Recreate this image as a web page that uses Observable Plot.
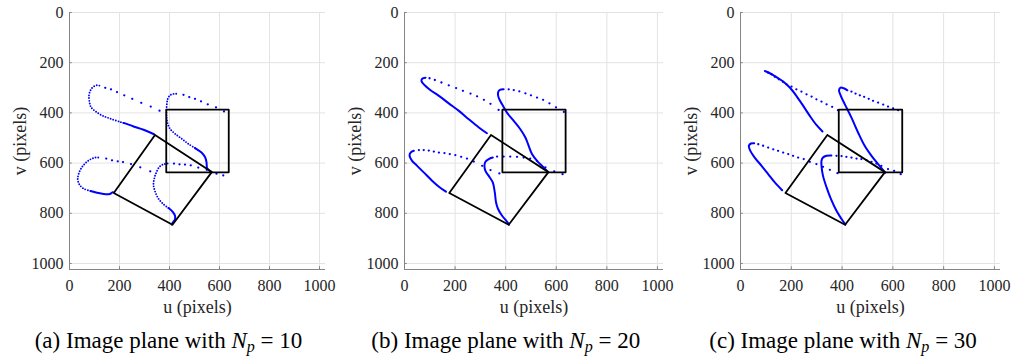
<!DOCTYPE html>
<html><head><meta charset="utf-8">
<script src="https://cdn.jsdelivr.net/npm/d3@7"></script>
<script src="https://cdn.jsdelivr.net/npm/@observablehq/plot@0.6"></script>
<style>
body{margin:0;background:#fff;}
#root{position:relative;width:1012px;height:360px;overflow:hidden;font-family:"Liberation Serif",Tinos,"Times New Roman",Times,"DejaVu Serif",serif;background:#fff;}
.panel{position:absolute;top:0;}
.panel svg, .panel svg text{font-family:"Liberation Serif",Tinos,"Times New Roman",Times,"DejaVu Serif",serif !important;}
.cap{position:absolute;top:327px;width:337px;text-align:center;font-size:23px;color:#000;white-space:nowrap;line-height:28px;}
.cap sub{font-size:0.7em;vertical-align:-0.25em;line-height:0;}
</style></head><body><div id="root"></div>
<script>
// tick values
const ticksU = [0, 200, 400, 600, 800, 1000];
const ticksV = [0, 200, 400, 600, 800, 1000];

// black polygons: initial (rotated) and desired feature squares [u, v]
const initSquare = [[342,488],[569,636],[412,846],[177,719],[342,488]];
const desiredSquare = [[387,387],[637,387],[637,637],[387,637],[387,387]];

// Rows: [curve, u, v]
// N_p = 10
const solid10 = [
  [1,338,485],[1,296,467],[1,256,454],[1,216,440],
  [2,568,635],[2,551,622],[2,548,596],[2,542,576],[2,528,558],[2,502,540],
  [3,174,716],[3,170,718],[3,161,723],[3,137,723],[3,110,718],[3,84,711],
  [4,409,845],[4,413,837],[4,422,824],[4,422,810],[4,413,794],[4,396,779]
];
const dotted10 = [
  [1,216,440],[1,203,436],[1,163,423],[1,130,410],[1,104,394],[1,86,377],[1,80,357],[1,78,330],[1,84,310],[1,94,297],[1,110,290],[1,126,293],
  [2,502,540],[2,475,523],[2,449,503],[2,422,483],[2,402,463],[2,393,443],[2,389,423],[2,388,397],[2,389,370],[2,393,344],[2,402,330],[2,418,324],[2,436,324],
  [3,84,711],[3,57,702],[3,40,686],[3,33,665],[3,37,642],[3,48,619],[3,64,600],[3,84,585],[3,104,578],[3,124,578],
  [4,396,779],[4,376,764],[4,356,742],[4,343,715],[4,336,688],[4,339,662],[4,347,638],[4,360,615],[4,376,605],[4,396,601]
];
const sparse10 = [
  [1,143,300],[1,166,306],[1,190,317],[1,219,330],[1,251,344],[1,287,360],[1,325,375],[1,360,391],
  [2,456,328],[2,479,337],[2,502,344],[2,526,354],[2,553,366],[2,586,378],[2,618,394],
  [3,147,582],[3,170,589],[3,193,593],[3,214,596],[3,246,604],[3,283,617],[3,323,633],
  [4,418,602],[4,440,605],[4,462,606],[4,485,609],[4,515,618],[4,549,627],[4,588,642],[4,615,649]
];

// N_p = 20
const solid20 = [
  [1,326,481],[1,294,458],[1,254,425],[1,215,392],[1,175,362],[1,136,332],[1,103,310],[1,80,290],[1,67,273],[1,70,264],[1,83,260],
  [2,568,636],[2,550,617],[2,524,591],[2,504,564],[2,491,531],[2,478,498],[2,458,465],[2,432,432],[2,405,399],[2,386,366],[2,372,339],[2,370,319],[2,376,309],[2,392,306],
  [3,164,714],[3,136,694],[3,109,670],[3,76,637],[3,50,611],[3,30,591],[3,20,571],[3,24,558],[3,37,551],
  [4,413,845],[4,405,833],[4,386,810],[4,370,783],[4,362,757],[4,357,717],[4,349,677],[4,333,651],[4,320,631],[4,316,611],[4,320,595],[4,333,584],[4,349,578]
];
const dotted20 = [];
const sparse20 = [
  [1,99,262],[1,120,269],[1,146,279],[1,175,290],[1,204,301],[1,231,312],[1,261,323],[1,287,334],[1,314,348],[1,340,364],[1,372,388],
  [2,412,306],[2,432,309],[2,454,314],[2,478,322],[2,500,330],[2,524,339],[2,548,348],[2,573,362],[2,599,378],[2,630,396],
  [3,57,548],[3,76,548],[3,96,550],[3,116,554],[3,136,558],[3,158,560],[3,179,564],[3,201,568],[3,224,575],[3,247,582],[3,274,594],[3,307,611],[3,340,628],[3,375,641],
  [4,366,574],[4,392,574],[4,418,574],[4,445,575],[4,471,578],[4,497,582],[4,524,591],[4,557,617],[4,592,633],[4,625,644]
];

// N_p = 30
const solid30 = [
  [1,323,474],[1,299,448],[1,273,412],[1,247,372],[1,220,332],[1,194,299],[1,168,275],[1,135,253],[1,112,240],[1,96,233],
  [2,570,638],[2,542,604],[2,516,571],[2,489,531],[2,463,478],[2,437,419],[2,411,366],[2,395,332],[2,388,310],[2,394,299],[2,407,302],[2,421,310],
  [3,164,708],[3,135,677],[3,109,644],[3,83,611],[3,56,578],[3,37,547],[3,33,531],[3,41,522],[3,54,521],
  [4,413,845],[4,398,823],[4,378,790],[4,356,743],[4,339,697],[4,325,651],[4,319,611],[4,319,591],[4,325,578],[4,339,571],[4,358,570]
];
const dotted30 = [];
const sparse30 = [
  [1,109,240],[1,122,246],[1,135,256],[1,151,266],[1,168,277],[1,181,286],[1,201,295],[1,220,306],[1,240,315],[1,260,326],[1,280,335],[1,299,346],[1,319,355],[1,339,366],[1,361,376],[1,384,389],
  [2,437,315],[2,453,323],[2,470,330],[2,487,336],[2,505,344],[2,522,352],[2,542,359],[2,562,367],[2,581,375],[2,601,382],[2,621,389],
  [3,70,525],[3,89,531],[3,109,538],[3,129,545],[3,148,551],[3,168,558],[3,188,564],[3,207,571],[3,227,578],[3,249,584],[3,273,595],[3,299,604],[3,325,615],[3,352,627],[3,382,640],
  [4,378,571],[4,398,572],[4,417,575],[4,437,578],[4,457,582],[4,476,584],[4,496,588],[4,516,595],[4,535,602],[4,555,611],[4,581,624],[4,605,631],[4,631,644]
];

const captions = ["(a) Image plane with", "(b) Image plane with", "(c) Image plane with"];
const npValues = ["10", "20", "30"];

const BLUE = "#0000ff";
const AXIS = "#858585";
const GRID = "#e3e3e3";
const TEXT = "#262626";
const SERIF = '"Liberation Serif", Tinos, "Times New Roman", Times, "DejaVu Serif", serif';

function makePanel(plotW, solid, dotted, sparse) {
  const mL = 69, mT = 12, mR = 8, mB = 50, plotH = 257;
  return Plot.plot({
    width: mL + plotW + mR,
    height: mT + plotH + mB,
    marginLeft: mL, marginTop: mT, marginRight: mR, marginBottom: mB,
    style: {fontFamily: SERIF, fontSize: "16px", color: TEXT, background: "transparent", overflow: "visible"},
    x: {domain: [0, 1024]},
    y: {domain: [0, 1024], reverse: true},
    marks: [
      Plot.gridX(ticksU, {stroke: GRID, strokeOpacity: 1}),
      Plot.gridY(ticksV, {stroke: GRID, strokeOpacity: 1}),
      Plot.ruleX([0], {stroke: AXIS, strokeWidth: 1}),
      Plot.ruleY([1024], {stroke: AXIS, strokeWidth: 1}),
      Plot.ruleX(ticksU, {x: d => d, y1: 1024, y2: 1013, stroke: AXIS}),
      Plot.ruleY(ticksV, {y: d => d, x1: 0, x2: 11, stroke: AXIS}),
      Plot.axisX(ticksU, {tickSize: 0, tickPadding: 10, label: null, tickFormat: d => String(d), fill: TEXT}),
      Plot.axisY(ticksV, {tickSize: 0, tickPadding: 6, label: null, tickFormat: d => String(d), fill: TEXT}),
      Plot.text(["u (pixels)"], {text: d => d, frameAnchor: "bottom", lineAnchor: "middle", textAnchor: "middle", dy: 38, fontSize: 18, fill: TEXT}),
      Plot.text(["v (pixels)"], {text: d => d, frameAnchor: "left", lineAnchor: "middle", textAnchor: "middle", rotate: -90, dx: -49, fontSize: 18, fill: TEXT}),
      Plot.line(solid, {x: d => d[1], y: d => d[2], z: d => d[0], stroke: BLUE, strokeWidth: 2, curve: "catmull-rom"}),
      Plot.line(dotted, {x: d => d[1], y: d => d[2], z: d => d[0], stroke: BLUE, strokeWidth: 1.9, strokeDasharray: "0 2.7", strokeLinecap: "round", curve: "catmull-rom"}),
      Plot.dot(sparse, {x: d => d[1], y: d => d[2], r: 1.15, fill: BLUE, stroke: "none"}),
      Plot.line(initSquare, {x: d => d[0], y: d => d[1], stroke: "#000", strokeWidth: 1.8}),
      Plot.line(desiredSquare, {x: d => d[0], y: d => d[1], stroke: "#000", strokeWidth: 1.8})
    ]
  });
}

const root = document.getElementById("root");
const panels = [
  {left: 0, plotW: 256, solid: solid10, dotted: dotted10, sparse: sparse10},
  {left: 335, plotW: 259, solid: solid20, dotted: dotted20, sparse: sparse20},
  {left: 671, plotW: 260, solid: solid30, dotted: dotted30, sparse: sparse30}
];
panels.forEach((p, i) => {
  const div = document.createElement("div");
  div.className = "panel";
  div.style.left = p.left + "px";
  div.appendChild(makePanel(p.plotW, p.solid, p.dotted, p.sparse));
  root.appendChild(div);
  const cap = document.createElement("div");
  cap.className = "cap";
  cap.style.left = (i * 337.3) + "px";
  cap.innerHTML = captions[i] + " <i>N<sub>p</sub></i> = " + npValues[i];
  root.appendChild(cap);
});
</script></body></html>
